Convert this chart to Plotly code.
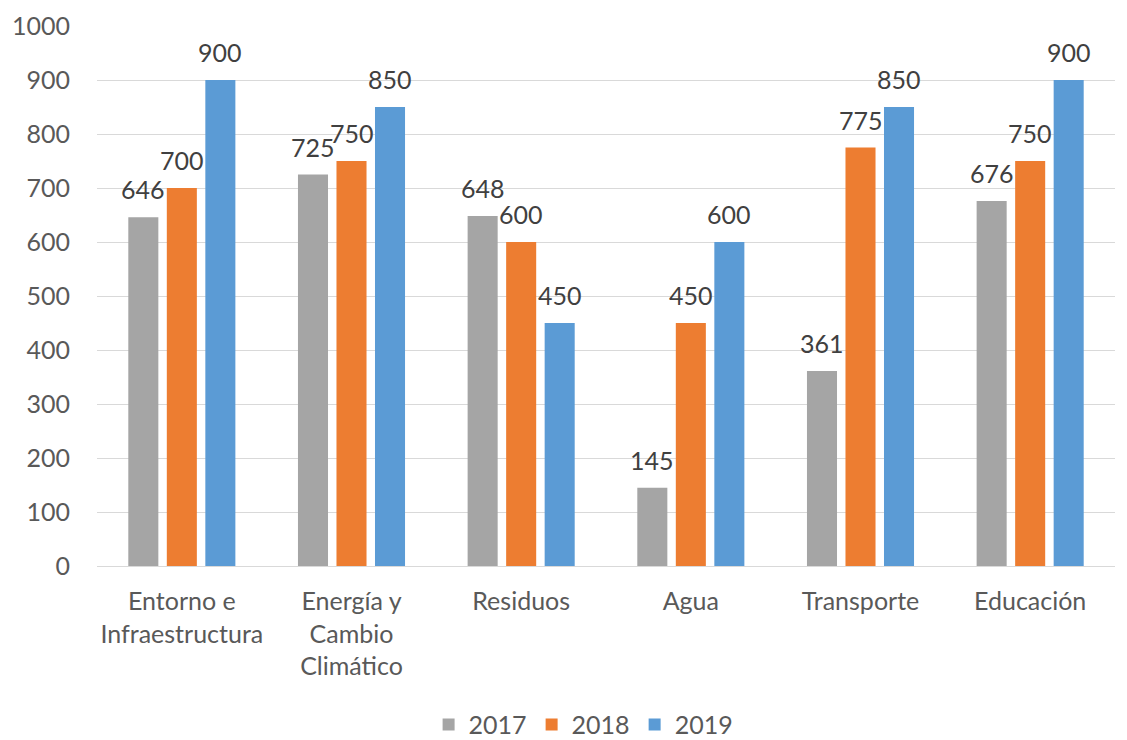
import plotly.graph_objects as go

categories = ["Entorno e<br>Infraestructura", "Energía y<br>Cambio<br>Climático", "Residuos", "Agua", "Transporte", "Educación"]
years = ["2017", "2018", "2019"]
values_2017 = [646, 725, 648, 145, 361, 676]
values_2018 = [700, 750, 600, 450, 775, 750]
values_2019 = [900, 850, 450, 600, 850, 900]
series = [values_2017, values_2018, values_2019]
colors = ["#A5A5A5", "#ED7D31", "#5B9BD5"]
y_ticks = [0, 100, 200, 300, 400, 500, 600, 700, 800, 900, 1000]

FONT = "Lato"
FS = 25
fig = go.Figure()
for name, vals, col in zip(years, series, colors):
    fig.add_trace(go.Bar(x=categories, y=vals, name=name,
                         marker=dict(color=col, line=dict(width=0))))

slot = 38.5
for i, vals in enumerate(series):
    for c, v in zip(categories, vals):
        fig.add_annotation(x=c, y=v, text=str(v), showarrow=False,
                           xshift=(i - 1) * slot, yshift=28, yanchor="middle",
                           font=dict(family=FONT, size=FS, color="#404040"))

fig.update_layout(
    width=1127, height=740,
    margin=dict(l=89, r=20, t=18, b=182, autoexpand=False),
    paper_bgcolor="white", plot_bgcolor="white",
    barmode="group", bargap=0.319, bargroupgap=0.22,
    font=dict(family=FONT, size=FS, color="#595959"),
    legend=dict(orientation="h", x=0.478, xanchor="center", y=-0.294, yanchor="middle",
                font=dict(family=FONT, size=FS, color="#595959"), itemwidth=30,
                traceorder="normal"),
    xaxis=dict(showline=True, linecolor="#D9D9D9", linewidth=1, ticks="", automargin=False,
               ticklabelstandoff=13, tickfont=dict(family=FONT, size=FS, color="#595959")),
    yaxis=dict(range=[0, 1000], tickvals=y_ticks, showgrid=True, gridcolor="#D9D9D9",
               gridwidth=1, zeroline=False, showline=False, ticks="", automargin=False,
               ticklabelstandoff=26, tickfont=dict(family=FONT, size=FS, color="#595959")),
)
fig.write_html("out.html")
